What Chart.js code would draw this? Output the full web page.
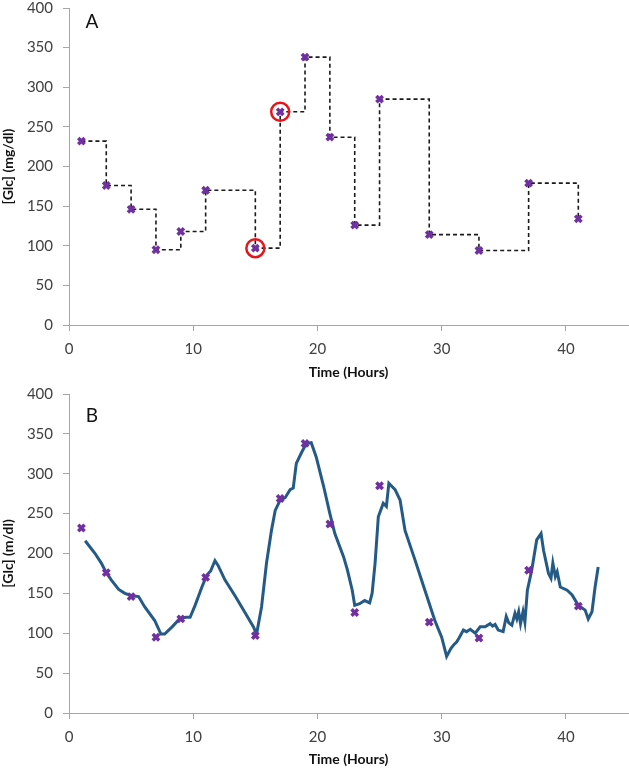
<!DOCTYPE html>
<html>
<head>
<meta charset="utf-8">
<script src="https://cdn.jsdelivr.net/npm/chart.js@4.4.1/dist/chart.umd.min.js"></script>
<style>
  html, body { margin: 0; padding: 0; background: #fff; }
  canvas { display: block; }
</style>
</head>
<body>
<canvas id="chartA" width="629" height="385"></canvas>
<canvas id="chartB" width="629" height="385"></canvas>
<script>
// ---- Data ----
const sampleHours = [1, 3, 5, 7, 9, 11, 15, 17, 19, 21, 23, 25, 29, 33, 37, 41];
const sampleGlc   = [232, 176, 146, 95, 118, 170, 97, 269, 338, 237, 126, 285, 114, 94, 179, 134];
const circledHours = [15, 17];

const cgmHours = [1.3, 2.1, 2.6, 3.0, 3.4, 4.0, 4.5, 5.05, 5.6, 6.1, 6.9, 7.4, 7.7, 8.3, 8.9, 9.4, 9.75,
  10.15, 10.7, 11.1, 11.4, 11.75, 12.0, 12.55, 13.4, 14.2, 14.85, 15.1, 15.5, 15.9, 16.3, 16.6, 17.0,
  17.4, 17.8, 18.05, 18.3, 18.7, 19.1, 19.5, 19.9, 20.5, 21.0, 21.4, 22.1, 22.4, 22.8, 23.0, 23.4,
  23.8, 24.2, 24.4, 24.64, 24.9, 25.3, 25.55, 25.75, 26.25, 26.65, 27.05, 27.85, 28.65, 29.45, 30.0,
  30.4, 30.75, 31.0, 31.2, 31.4, 31.75, 32.0, 32.3, 32.7, 33.1, 33.5, 33.9, 34.1, 34.3, 34.55, 34.95,
  35.2, 35.4, 35.65, 35.9, 36.05, 36.2, 36.35, 36.55, 36.7, 36.9, 37.25, 37.65, 38.0, 38.2, 38.6,
  38.8, 38.95, 39.15, 39.3, 39.55, 40.1, 40.5, 41.0, 41.55, 41.8, 42.1, 42.35, 42.6];
const cgmGlc = [216, 200, 188, 176, 167, 155, 150, 147, 146, 133, 116, 99, 99, 108, 118, 120, 120,
  135, 158, 173, 178, 191, 185, 167, 146, 125, 108, 99, 133, 188, 229, 254, 267,
  270, 280, 282, 313, 326, 338, 339, 321, 284, 250, 225, 196, 180, 154, 135, 137,
  141, 138, 150, 188, 246, 263, 259, 288, 280, 267, 229, 192, 154, 116, 95,
  71, 81, 86, 89, 94, 104, 102, 105, 100, 108, 108, 112, 109, 111, 104, 102,
  121, 113, 110, 125, 118, 127, 112, 127, 114, 154, 179, 217, 225, 204, 175,
  169, 188, 171, 177, 158, 154, 148, 135, 129, 118, 127, 158, 183];

const xTicks = [0, 10, 20, 30, 40];
const yTicks = [0, 50, 100, 150, 200, 250, 300, 350, 400];

// ---- Helpers ----
const FONT = 'Lato, "Open Sans", "Liberation Sans", sans-serif';
const toXY = (xs, ys) => xs.map((x, i) => ({ x: x, y: ys[i] }));
const sampleXY = toXY(sampleHours, sampleGlc);
const circledXY = circledHours.map(h => ({ x: h, y: sampleGlc[sampleHours.indexOf(h)] }));
const cgmXY = toXY(cgmHours, cgmGlc);

const panelLabel = {
  id: 'panelLabel',
  afterDraw(chart, args, opts) {
    const ctx = chart.ctx;
    ctx.save();
    ctx.font = '19px ' + FONT;
    ctx.fillStyle = '#111';
    ctx.textAlign = 'center';
    ctx.textBaseline = 'middle';
    ctx.fillText(opts.text, opts.x, opts.y);
    ctx.restore();
  }
};

function scales(yTitle, xAxisHeight, xTitlePadBottom) {
  return {
    x: {
      type: 'linear', min: 0, max: 45,
      afterBuildTicks: (axis) => { axis.ticks = xTicks.map(v => ({ value: v })); },
      ticks: { font: { size: 15, family: FONT }, color: '#404040', padding: 9, includeBounds: false },
      grid: { display: true, drawOnChartArea: false, tickLength: 6, color: '#a6a6a6' },
      border: { color: '#a6a6a6', width: 1 },
      title: { display: true, text: 'Time (Hours)', font: { size: 14, weight: 'bold', family: FONT }, color: '#111',
               padding: { top: 0, bottom: xTitlePadBottom } },
      afterFit: (axis) => { axis.height = xAxisHeight; axis.paddingRight = 0; axis.paddingLeft = 0; }
    },
    y: {
      type: 'linear', min: 0, max: 400,
      afterBuildTicks: (axis) => { axis.ticks = yTicks.map(v => ({ value: v })); },
      ticks: { font: { size: 15, family: FONT }, color: '#404040', padding: 10 },
      grid: { display: true, drawOnChartArea: false, tickLength: 6, color: '#a6a6a6' },
      border: { color: '#a6a6a6', width: 1 },
      title: { display: true, text: yTitle, font: { size: 14, weight: 'bold', family: FONT }, color: '#111',
               padding: { top: 0, bottom: 0 } },
      afterFit: (axis) => { axis.width = 69; axis.paddingTop = 0; axis.paddingBottom = 0; }
    }
  };
}

const markerDS = {
  type: 'scatter',
  data: sampleXY,
  pointStyle: 'crossRot',
  pointRadius: 4.5,
  pointBorderWidth: 3.5,
  pointBorderColor: '#7030A0',
  pointBackgroundColor: '#7030A0',
  showLine: false,
  clip: false
};

// ---- Chart A ----
new Chart(document.getElementById('chartA'), {
  type: 'scatter',
  data: {
    datasets: [
      {
        data: circledXY,
        pointStyle: 'circle',
        pointRadius: 9,
        pointBorderWidth: 2.5,
        pointBorderColor: '#e8141b',
        pointBackgroundColor: 'rgba(0,0,0,0)',
        showLine: false,
        clip: false
      },
      Object.assign({}, markerDS),
      {
        data: sampleXY,
        showLine: true,
        stepped: 'before',
        borderColor: '#1a1a1a',
        borderWidth: 1.6,
        borderDash: [4, 3],
        pointRadius: 0,
        fill: false
      }
    ]
  },
  options: {
    responsive: false,
    animation: false,
    devicePixelRatio: 1,
    layout: { autoPadding: false, padding: { top: 8, right: 1, bottom: 0, left: 0 } },
    plugins: { legend: { display: false }, tooltip: { enabled: false },
               panelLabel: { text: 'A', x: 92, y: 22 } },
    scales: scales('[Glc] (mg/dl)', 60, 4)
  },
  plugins: [panelLabel]
});

// ---- Chart B ----
new Chart(document.getElementById('chartB'), {
  type: 'scatter',
  data: {
    datasets: [
      Object.assign({}, markerDS),
      {
        data: cgmXY,
        showLine: true,
        borderColor: '#245b86',
        borderWidth: 3,
        tension: 0,
        pointRadius: 0,
        fill: false
      }
    ]
  },
  options: {
    responsive: false,
    animation: false,
    devicePixelRatio: 1,
    layout: { autoPadding: false, padding: { top: 9, right: 1, bottom: 0, left: 0 } },
    plugins: { legend: { display: false }, tooltip: { enabled: false },
               panelLabel: { text: 'B', x: 92, y: 31 } },
    scales: scales('[Glc] (m/dl)', 57, 2)
  },
  plugins: [panelLabel]
});
</script>
</body>
</html>
